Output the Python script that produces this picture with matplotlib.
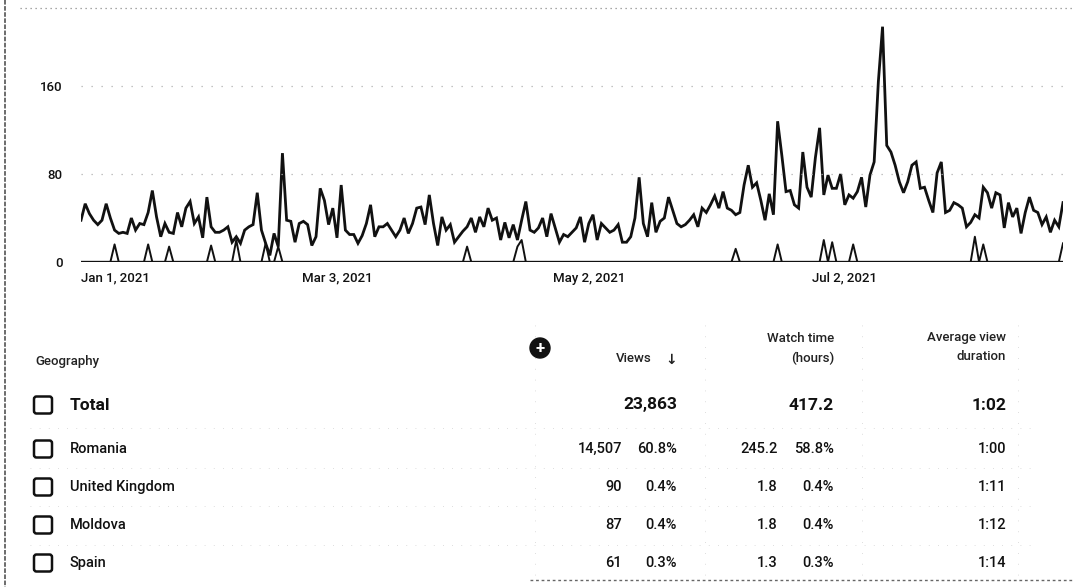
import matplotlib.pyplot as plt
import pandas as pd
from matplotlib.patches import Circle, FancyBboxPatch

plt.rcParams["font.family"] = ["Roboto", "DejaVu Sans"]

# daily views, Jan 1 - Aug 23, 2021
views = [
    38, 53, 44, 38, 34, 38, 53, 40, 29, 26, 27, 26, 40, 29, 35, 34, 45, 65, 41, 23,
    35, 27, 26, 45, 32, 49, 55, 35, 41, 22, 59, 32, 27, 27, 29, 32, 18, 23, 17, 29,
    32, 34, 63, 29, 17, 6, 26, 14, 99, 38, 37, 18, 35, 37, 34, 15, 23, 67, 56, 34,
    49, 22, 70, 29, 25, 25, 17, 24, 35, 52, 23, 32, 32, 35, 29, 23, 29, 40, 26, 35,
    49, 50, 34, 61, 35, 15, 41, 29, 34, 18, 23, 28, 32, 40, 27, 41, 32, 49, 38, 40,
    20, 36, 22, 34, 20, 38, 55, 29, 27, 31, 40, 23, 44, 31, 18, 25, 23, 27, 31, 41,
    18, 35, 43, 20, 35, 31, 27, 29, 34, 18, 18, 23, 40, 77, 35, 23, 54, 27, 37, 40,
    59, 47, 35, 32, 34, 38, 43, 32, 49, 45, 52, 60, 49, 64, 49, 47, 43, 45, 70, 88,
    68, 72, 56, 38, 62, 43, 128, 97, 64, 65, 52, 49, 100, 68, 59, 95, 122, 61, 79, 67,
    67, 80, 52, 61, 58, 64, 77, 50, 79, 91, 164, 214, 106, 100, 88, 73, 63, 73, 88, 91,
    67, 68, 56, 45, 81, 91, 45, 47, 54, 52, 49, 32, 36, 43, 40, 68, 63, 49, 63, 61,
    31, 54, 41, 49, 26, 45, 59, 47, 45, 34, 41, 27, 38, 32, 54,
]

# second series: isolated single-day spikes, zero elsewhere
spike_days = [8, 16, 21, 31, 37, 44, 47, 92, 104, 105, 156, 166, 177, 179, 184, 213, 215, 234]
spike_vals = [16, 16, 14, 15, 20, 17, 14, 14, 14, 20, 12, 16, 20, 18, 16, 23, 16, 17]

tick_dates = ["2021-01-01", "2021-03-03", "2021-05-02", "2021-07-02"]
tick_labels = ["Jan 1, 2021", "Mar 3, 2021", "May 2, 2021", "Jul 2, 2021"]

countries = ["Romania", "United Kingdom", "Moldova", "Spain"]
country_views = ["14,507", "90", "87", "61"]
country_views_pct = ["60.8%", "0.4%", "0.4%", "0.3%"]
country_hours = ["245.2", "1.8", "1.8", "1.3"]
country_hours_pct = ["58.8%", "0.4%", "0.4%", "0.3%"]
country_avd = ["1:00", "1:11", "1:12", "1:14"]
total_views, total_hours, total_avd = "23,863", "417.2", "1:02"

W, H = 1073, 587
INK = "#111111"
HEAD = "#222222"
GRID = "#b0b0b0"
FAINT = "#d2d2d2"


def main():
    dates = pd.date_range("2021-01-01", periods=len(views), freq="D")
    other = [0] * len(views)
    for d, v in zip(spike_days, spike_vals):
        other[d] = v

    fig = plt.figure(figsize=(W / 100, H / 100), dpi=100)
    fig.patch.set_facecolor("white")

    # page decorations in pixel coordinates, behind everything
    pg = fig.add_axes([0, 0, 1, 1], zorder=-1)
    pg.set_xlim(0, W)
    pg.set_ylim(H, 0)
    pg.axis("off")
    pg.plot([20, W], [8, 8], color="#8a8a8a", linewidth=0.9, linestyle=(0, (1, 3)))
    pg.plot([5, 5], [0, H], color="#444444", linewidth=1.1, linestyle=(0, (3, 1)))
    pg.plot([530, W], [580, 580], color="#666666", linewidth=1.0, linestyle=(0, (2, 2)))
    for y in (428, 468, 506, 545):
        pg.plot([30, 1030], [y, y], color=FAINT, linewidth=0.6, linestyle=(0, (1, 10)))
    for x in (535, 705, 862, 1018):
        pg.plot([x, x], [325, 575], color=FAINT, linewidth=0.6, linestyle=(0, (1, 12)))

    # --- line chart ---
    ax = fig.add_axes([81 / W, (H - 262) / H, (1063 - 81) / W, (262 - 8) / H])
    ax.set_facecolor("none")
    ax.plot(dates, views, color=INK, linewidth=2.0, solid_joinstyle="miter")
    ax.plot(dates, other, color=INK, linewidth=1.4)
    ax.axhline(0, color=INK, linewidth=2.4)

    ax.set_xlim(dates[0], dates[-1])
    ax.set_ylim(0, 231)
    ax.set_yticks([0, 80, 160])
    ax.set_yticklabels(["0", "80", "160"])
    for y in (80, 160):
        ax.axhline(y, color=GRID, linewidth=0.9, linestyle=(0, (1, 7)))

    ax.set_xticks(pd.to_datetime(tick_dates))
    ax.set_xticklabels(tick_labels)
    ax.get_xticklabels()[0].set_horizontalalignment("left")

    ax.tick_params(axis="both", length=0, labelsize=9.5, colors=INK)
    ax.tick_params(axis="y", pad=13)
    ax.tick_params(axis="x", pad=7)
    for lbl in ax.get_xticklabels() + ax.get_yticklabels():
        lbl.set_fontweight("medium")
    for side in ("left", "right", "bottom", "top"):
        ax.spines[side].set_visible(False)

    # --- geography table ---
    tb = fig.add_axes([0, 0, 1, 1])
    tb.set_xlim(0, W)
    tb.set_ylim(H, 0)
    tb.axis("off")

    head = dict(fontsize=9.5, color=HEAD, va="center", fontweight="medium")
    tb.text(35, 361, "Geography", ha="left", **head)

    tb.add_patch(Circle((540, 348), 10, color=INK))
    tb.text(540, 348.5, "+", fontsize=12, fontweight="bold", color="white",
            ha="center", va="center")

    tb.text(652, 359, "Views", ha="right", **head)
    tb.text(677, 360, "\u2193", fontsize=10, color=HEAD, ha="right", va="center",
            fontweight="bold", family=["DejaVu Sans"])
    tb.text(834, 338, "Watch time", ha="right", **head)
    tb.text(834, 358, "(hours)", ha="right", **head)
    tb.text(1006, 337, "Average view", ha="right", **head)
    tb.text(1006, 357, "duration", ha="right", **head)

    def checkbox(y):
        tb.add_patch(FancyBboxPatch((34, y - 8.5), 18, 17,
                                    boxstyle="round,pad=0,rounding_size=2.5",
                                    facecolor="white", edgecolor=INK, linewidth=1.8))

    bold = dict(fontsize=12.5, fontweight="bold", color=INK, va="center")
    checkbox(405)
    tb.text(70, 405, "Total", **bold)
    tb.text(677, 405, total_views, ha="right", **bold)
    tb.text(834, 405, total_hours, ha="right", **bold)
    tb.text(1006, 405, total_avd, ha="right", **bold)

    cell = dict(fontsize=10.5, color=INK, va="center", fontweight="medium")
    row_y = [449, 487, 525, 563]
    for i, y in enumerate(row_y):
        checkbox(y)
        tb.text(70, y, countries[i], **cell)
        tb.text(622, y, country_views[i], ha="right", **cell)
        tb.text(677, y, country_views_pct[i], ha="right", **cell)
        tb.text(778, y, country_hours[i], ha="right", **cell)
        tb.text(834, y, country_hours_pct[i], ha="right", **cell)
        tb.text(1006, y, country_avd[i], ha="right", **cell)

    fig.savefig("out.png", dpi=100, facecolor="white")


if __name__ == "__main__":
    main()
